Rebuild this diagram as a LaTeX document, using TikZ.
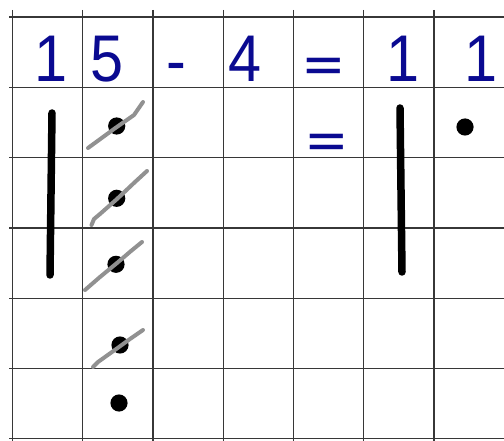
\documentclass[tikz,border=0pt]{standalone}
\usepackage{fontspec}
\usepackage{graphicx}
\setmainfont{Liberation Sans}
\definecolor{ink}{RGB}{10,10,145}
\definecolor{rulegray}{RGB}{55,55,55}
\definecolor{strikegray}{RGB}{145,145,145}
\newcommand{\narrow}[1]{\scalebox{0.9}[1]{#1}}
\newcommand{\flateq}{\scalebox{1}[0.62]{\bfseries =}}

\begin{document}
\begin{tikzpicture}[x=1pt, y=-1pt,
  digit/.style={text=ink, font=\fontsize{66}{66}\selectfont, inner sep=0pt, anchor=base},
  gridline/.style={rulegray, line width=1.3pt},
  bar/.style={line width=7.5pt, line cap=round},
  crossout/.style={strikegray, line width=4pt, line cap=round, line join=round}]
\def\s{70.3}
\def\xo{12.3}
\def\yo{17}
\def\r{8.6}
\useasboundingbox (0,0) rectangle (504,441);

% Grid
\foreach \k in {0,...,6}
  \draw[gridline] ({\xo+\k*\s},10) -- ({\xo+\k*\s},441);
\foreach \j in {0,...,6}
  \draw[gridline] (9,{\yo+\j*\s}) -- (504,{\yo+\j*\s});

% Top row
\node[digit] (tens) at (51.2,82) {\narrow{1}};
\node[digit] (ones) at (107,82) {\narrow{5}};
\node[digit] (minus) at (176.5,84) {\narrow{-}};
\node[digit] (sub) at (245,82) {\narrow{4}};
\node[digit] (eq) at (324,80) {\flateq};
\node[digit] (restens) at (402.7,82) {\narrow{1}};
\node[digit] (resones) at (480.7,82) {\narrow{1}};

% Second row
\node[digit] (eqb) at (326.7,156) {\flateq};

% Tens as bars
\draw[bar] (52,113) -- (50,275);
\draw[bar] (400,108) -- (402,272);

% Ones as dots
\fill (116.7,126) circle (\r);
\fill (116.7,198.3) circle (\r);
\fill (116,264.3) circle (\r);
\fill (120,345) circle (\r);
\fill (119,403) circle (\r);
\fill (465,127) circle (\r);

% Crossed out dots
\draw[crossout] (88,148) -- (114,129) -- (134,115) -- (143,102);
\draw[crossout] (91.5,225) -- (94,219) -- (100,214) -- (117,199) -- (135,182) -- (147,171);
\draw[crossout] (85,290) -- (100,277) -- (117,263) -- (131,251) -- (142,242);
\draw[crossout] (93,367) -- (98,362) -- (119,347) -- (130,339) -- (143,330);

\end{tikzpicture}
\end{document}
